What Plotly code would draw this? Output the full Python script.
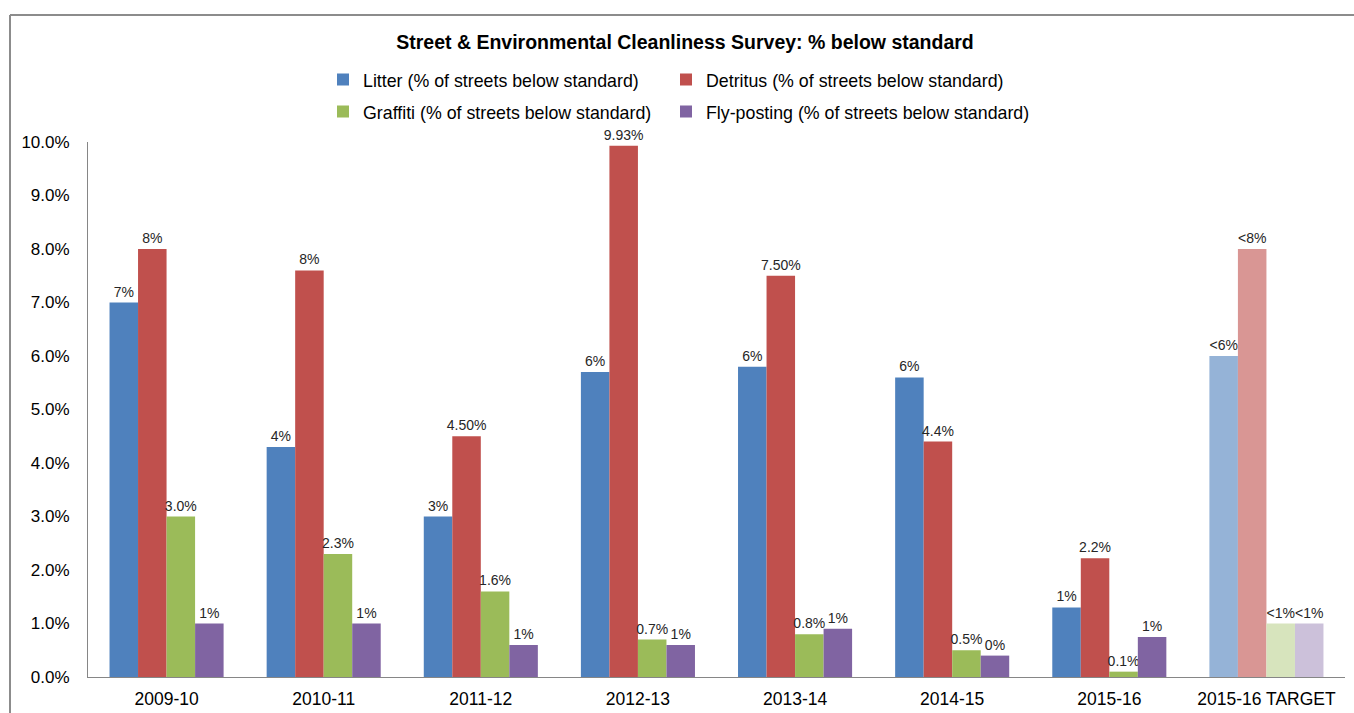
import plotly.graph_objects as go

categories = ["2009-10", "2010-11", "2011-12", "2012-13", "2013-14", "2014-15", "2015-16", "2015-16 TARGET"]

litter = [7.0, 4.3, 3.0, 5.7, 5.8, 5.6, 1.3, 6.0]
detritus = [8.0, 7.6, 4.5, 9.93, 7.5, 4.4, 2.22, 8.0]
graffiti = [3.0, 2.3, 1.6, 0.7, 0.8, 0.5, 0.1, 1.0]
flyposting = [1.0, 1.0, 0.6, 0.6, 0.9, 0.4, 0.75, 1.0]

litter_labels = ["7%", "4%", "3%", "6%", "6%", "6%", "1%", "<6%"]
detritus_labels = ["8%", "8%", "4.50%", "9.93%", "7.50%", "4.4%", "2.2%", "<8%"]
graffiti_labels = ["3.0%", "2.3%", "1.6%", "0.7%", "0.8%", "0.5%", "0.1%", "<1%"]
fly_labels = ["1%", "1%", "1%", "1%", "1%", "0%", "1%", "<1%"]

y_tick_values = [0, 1, 2, 3, 4, 5, 6, 7, 8, 9, 10]
y_tick_labels = ["0.0%", "1.0%", "2.0%", "3.0%", "4.0%", "5.0%", "6.0%", "7.0%", "8.0%", "9.0%", "10.0%"]

series_names = [
    "Litter (% of streets below standard)",
    "Detritus (% of streets below standard)",
    "Graffiti (% of streets below standard)",
    "Fly-posting (% of streets below standard)",
]
base_colors = ["#4F81BD", "#C0504D", "#9BBB59", "#8064A2"]
target_colors = ["#95B3D7", "#D99694", "#D7E4BD", "#CCC1DA"]

FONT = "Liberation Sans, Arial, sans-serif"

fig = go.Figure()
all_vals = [litter, detritus, graffiti, flyposting]
all_labels = [litter_labels, detritus_labels, graffiti_labels, fly_labels]
legend_ids = ["legend", "legend2", "legend3", "legend4"]
for i in range(4):
    colors = [base_colors[i]] * (len(categories) - 1) + [target_colors[i]]
    fig.add_trace(go.Bar(
        x=categories, y=all_vals[i], name=series_names[i],
        marker=dict(color=colors, line=dict(width=0)),
        text=all_labels[i], textposition="outside", constraintext="none",
        textfont=dict(family=FONT, size=14, color="#262626"),
        cliponaxis=False, legend=legend_ids[i],
    ))

# chart-area border (top and left edges)
fig.add_shape(type="line", xref="paper", yref="paper",
              x0=(10 - 88) / 1257, x1=(1354 - 88) / 1257,
              y0=(677 - 15) / 535, y1=(677 - 15) / 535,
              line=dict(color="#8C8C8C", width=2))
fig.add_shape(type="line", xref="paper", yref="paper",
              x0=(10 - 88) / 1257, x1=(10 - 88) / 1257,
              y0=(677 - 15) / 535, y1=-0.2,
              line=dict(color="#8C8C8C", width=2))

legend_common = dict(
    orientation="h", xref="paper", yref="paper", xanchor="left", yanchor="middle",
    font=dict(family=FONT, size=17.8, color="#000000"),
    bgcolor="rgba(0,0,0,0)", borderwidth=0,
    itemclick=False, itemdoubleclick=False,
)
col1_x = (323 - 88) / 1257
col2_x = (666 - 88) / 1257
row1_y = (677 - 80) / 535
row2_y = (677 - 112) / 535

fig.update_layout(
    width=1354, height=713,
    margin=dict(l=88, r=9, t=142, b=36, autoexpand=False),
    paper_bgcolor="white", plot_bgcolor="white",
    barmode="group", bargap=0.274, bargroupgap=0,
    title=dict(text="<b>Street & Environmental Cleanliness Survey: % below standard</b>",
               x=685 / 1354, xanchor="center", y=1 - 42 / 713, yanchor="middle",
               xref="container", yref="container",
               font=dict(family=FONT, size=19.5, color="#000000")),
    legend=dict(x=col1_x, y=row1_y, **legend_common),
    legend2=dict(x=col2_x, y=row1_y, **legend_common),
    legend3=dict(x=col1_x, y=row2_y, **legend_common),
    legend4=dict(x=col2_x, y=row2_y, **legend_common),
    xaxis=dict(type="category", showline=True, linecolor="#868686", linewidth=1, ticks="",
               showgrid=False, ticklabelstandoff=6,
               tickfont=dict(family=FONT, size=17.5, color="#000000")),
    yaxis=dict(range=[0, 10], tickvals=y_tick_values, ticktext=y_tick_labels,
               showline=True, linecolor="#868686", linewidth=1, ticks="",
               showgrid=False, zeroline=False, ticklabelstandoff=14,
               tickfont=dict(family=FONT, size=17, color="#000000")),
    showlegend=True,
)

fig.write_html("out.html")
